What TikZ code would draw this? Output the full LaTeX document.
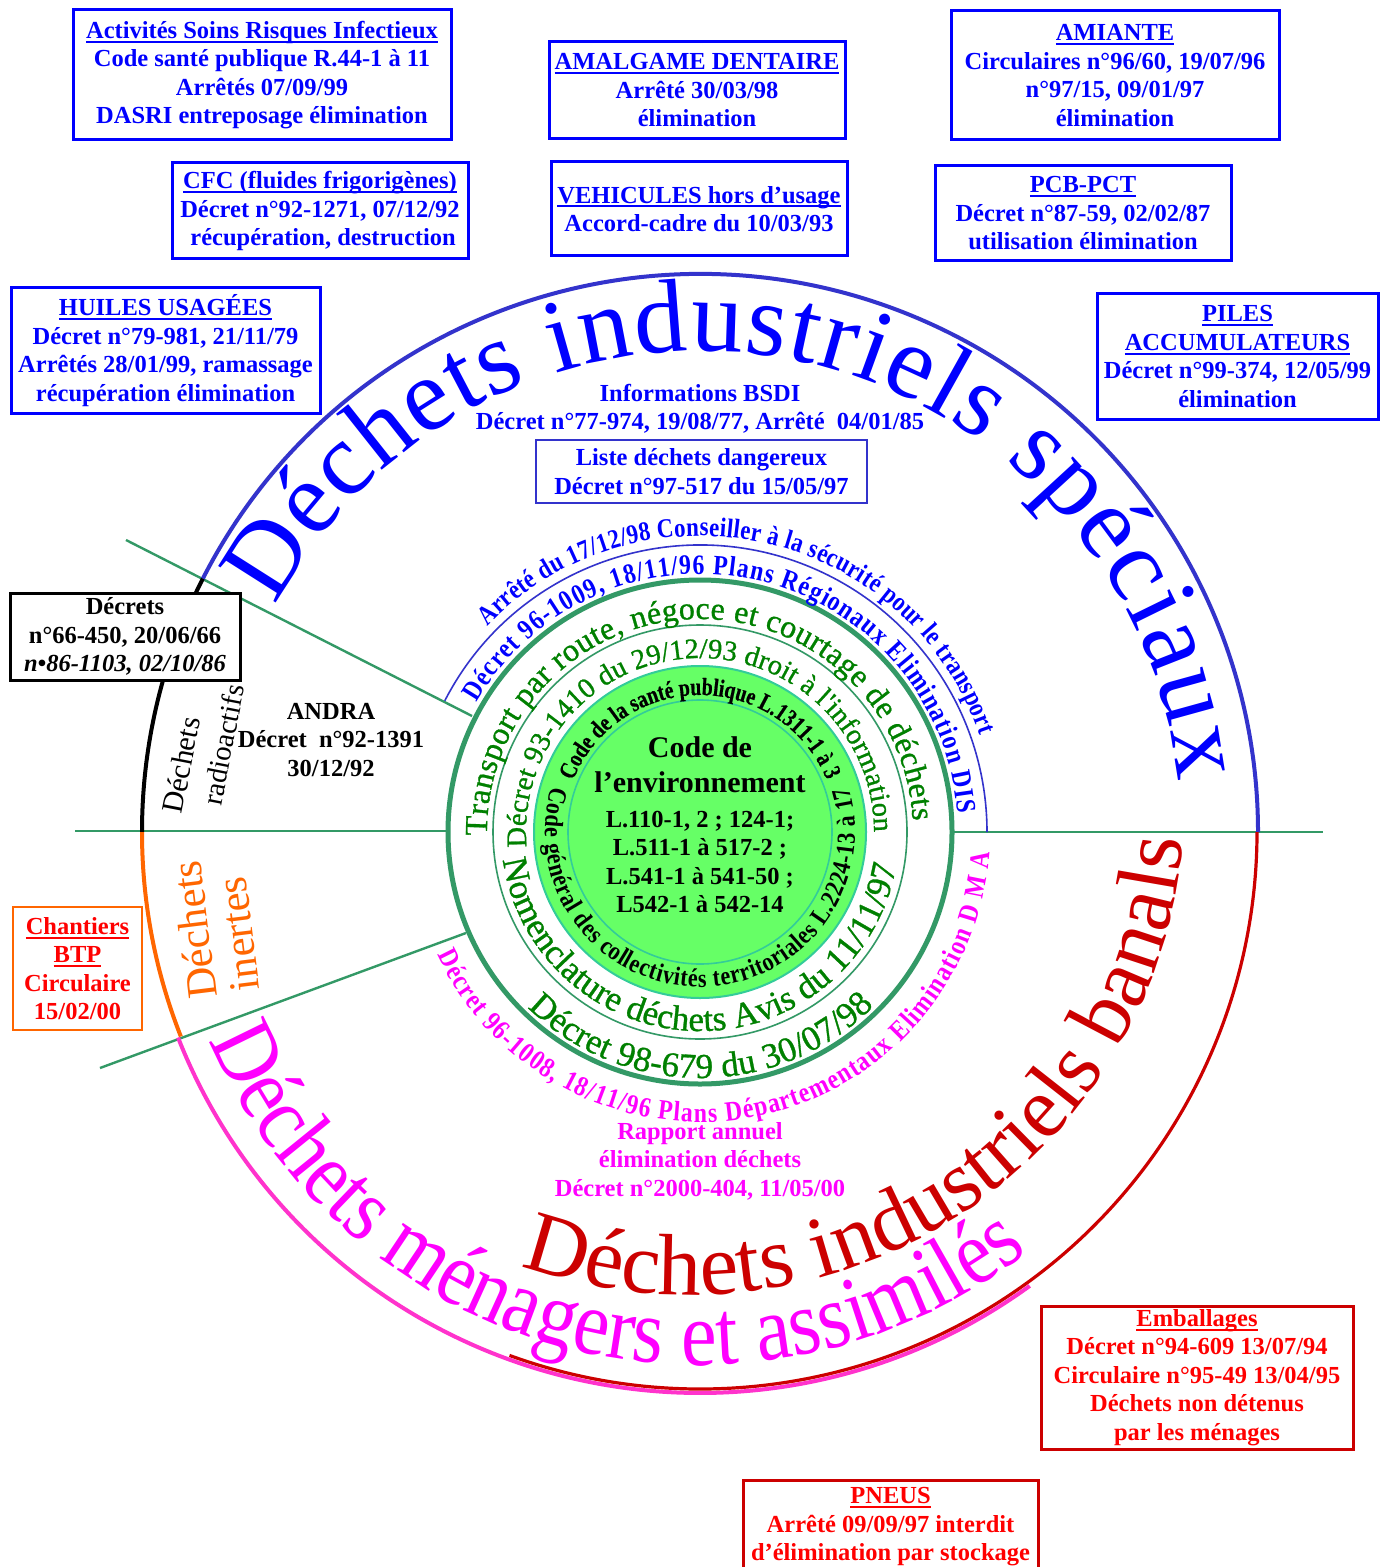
\documentclass[tikz,border=0pt]{standalone}
\usepackage{fontspec}
\setmainfont{Liberation Serif}
\newfontfamily\cnd[FakeStretch=0.85]{Liberation Serif}
\newfontfamily\cndb[FakeStretch=0.8,FakeBold=0.6]{Liberation Serif}
\newfontfamily\wide[FakeStretch=0.87]{Liberation Serif}
\newfontfamily\gfont[FakeBold=0.9]{Liberation Serif}
\usetikzlibrary{decorations.text}
\definecolor{tblue}{HTML}{0000FF}
\definecolor{arcblue}{HTML}{3333CC}
\definecolor{sgreen}{HTML}{339966}
\definecolor{dgreen}{HTML}{008000}
\definecolor{lgreen}{HTML}{66FF66}
\definecolor{diskb}{HTML}{33CC99}
\definecolor{mag}{HTML}{FF00FF}
\definecolor{pinkarc}{HTML}{FF33CC}
\definecolor{dred}{HTML}{CC0000}
\definecolor{tred}{HTML}{FF0000}
\definecolor{orng}{HTML}{FF6600}
\newcommand\ulin[1]{\setbox0\hbox{#1}\leavevmode\rlap{\rule[-2.2pt]{\wd0}{1pt}}\box0}
\newcommand\arctxt[7]{%
\path[decorate,decoration={text along path,text align={fit to path},text color=#2,text={|#3|#4}}] ([shift={(#5:#7)}]#1) arc[start angle=#5,end angle=#6,radius=#7];}
\tikzset{
 boxfont/.style={font=\fontsize{12.25}{14.25}\selectfont\bfseries, align=center, inner sep=0pt},
 bbox/.style={boxfont, draw=tblue, line width=1.5pt, text=tblue, fill=white},
 rbox/.style={boxfont, draw=dred, line width=1.5pt, text=tred, fill=white},
 plain/.style={boxfont},
 gline/.style={sgreen, line width=1.2pt},
 outarc/.style={line width=2pt}
}
\begin{document}
\begin{tikzpicture}[x=0.5pt,y=0.5pt]
\useasboundingbox (0,0) rectangle (1388,-1567);
\fill[white] (0,0) rectangle (1388,-1567);
\coordinate (C) at (700,-832);
\coordinate (C2) at (690,-800);
% radial green lines
\coordinate (g1o) at (126,-540); \coordinate (g1i) at (472,-716);
\coordinate (g2o) at (75,-831);  \coordinate (g2i) at (447,-831);
\coordinate (g3o) at (100,-1068); \coordinate (g3i) at (466,-933);
\coordinate (g4i) at (951,-832); \coordinate (g4o) at (1323,-832);
\draw[gline] (g1o) -- (g1i);
\draw[gline] (g2o) -- (g2i);
\draw[gline] (g3o) -- (g3i);
\draw[gline] (g4i) -- (g4o);
% circles
\draw[sgreen, line width=2.5pt] (C) circle[radius=252];
\draw[sgreen, line width=0.8pt] (C) circle[radius=207];
\draw[draw=diskb, fill=lgreen, line width=1pt] (C) circle[radius=166];
\draw[diskb, line width=0.8pt] (C) circle[radius=132];
% outer arcs
\draw[outarc, arcblue] ([shift={(153:558)}]C) arc[start angle=153,end angle=0,radius=558];
\draw[outarc, black] ([shift={(153:558)}]C) arc[start angle=153,end angle=180,radius=558];
\draw[outarc, orng] ([shift={(180:558)}]C) arc[start angle=180,end angle=201.5,radius=558];
\draw[outarc, pinkarc] ([shift={(201.5:561)}]C) arc[start angle=201.5,end angle=306,radius=561];
\draw[dred, line width=1.6pt] ([shift={(0:557)}]C) arc[start angle=360,end angle=250,radius=557];
\draw[arcblue, line width=0.8pt] ([shift={(152.8:287)}]C) arc[start angle=152.8,end angle=0,radius=287];
% curved texts
\arctxt{C}{tblue}{\fontsize{52}{52}\selectfont}{Déchets industriels spéciaux}{152}{6}{481}
\arctxt{C2}{dred}{\fontsize{43.5}{43.5}\selectfont}{Déchets industriels banals}{250}{355.5}{495}
\arctxt{C}{mag}{\wide\fontsize{46}{46}\selectfont}{Déchets ménagers et assimilés}{203}{308}{533}
\arctxt{C}{tblue}{\cnd\bfseries\fontsize{13.5}{13.5}\selectfont}{Arrêté du 17/12/98 Conseiller à la sécurité pour le transport}{136}{19}{296}
\arctxt{C}{tblue}{\cnd\bfseries\fontsize{14}{14}\selectfont}{Décret 96-1009, 18/11/96 Plans Régionaux Elimination DIS}{150}{4}{258}
\arctxt{C}{dgreen}{\gfont\fontsize{16}{16}\selectfont}{Transport par route, négoce et courtage de déchets}{181}{3}{213}
\arctxt{C}{dgreen}{\gfont\fontsize{14.2}{14.2}\selectfont}{Décret 93-1410 du 29/12/93 droit à l'information}{185}{0}{174}
\arctxt{C}{black}{\cndb\bfseries\fontsize{12.3}{12.3}\selectfont}{Code de la santé publique L.1311-1 à 3}{158}{23}{137}
\arctxt{C}{black}{\cnd\bfseries\fontsize{13}{13}\selectfont}{Code général des collectivités territoriales L.2224-13 à 17}{163}{377}{155}
\arctxt{C}{dgreen}{\gfont\fontsize{17.5}{17.5}\selectfont}{Nomenclature déchets Avis du 11/11/97}{188}{349.5}{199}
\arctxt{C}{dgreen}{\gfont\fontsize{17.5}{17.5}\selectfont}{Décret 98-679 du 30/07/98}{225.5}{315}{246}
\arctxt{C}{mag}{\cnd\bfseries\fontsize{14}{14}\selectfont}{Décret 96-1008, 18/11/96 Plans Départementaux Elimination D M A}{205}{356}{290}
% centre texts
\node[font=\fontsize{15}{17.5}\selectfont\bfseries, align=center] (env) at (700,-765) {Code de\\l’environnement};
\node[plain] (envl) at (700,-862) {L.110-1, 2 ; 124-1;\\L.511-1 à 517-2 ;\\L.541-1 à 541-50 ;\\L542-1 à 542-14};
\node[plain, text=tblue] (bsdi) at (700,-409) {Informations BSDI\\Décret n°77-974, 19/08/77, Arrêté\ \ 04/01/85};
\node[plain, draw=arcblue, line width=1pt, text=tblue, minimum width=165.5pt, minimum height=31.5pt] (liste) at (701.5,-471.5) {Liste déchets dangereux\\Décret n°97-517 du 15/05/97};
\node[plain] (andra) at (331,-740) {ANDRA\\Décret\ \ n°92-1391\\30/12/92};
\node[plain, text=mag] (rapport) at (700,-1161) {Rapport annuel\\élimination déchets\\Décret n°2000-404, 11/05/00};
% rotated labels
\node[rotate=79, font=\fontsize{15}{15}\selectfont] (dr1) at (181,-765) {Déchets};
\node[rotate=79, font=\fontsize{14.5}{14.5}\selectfont] (dr2) at (223,-745) {radioactifs};
\node[rotate=97, text=orng, font=\fontsize{21.5}{21.5}\selectfont] (di1) at (194,-930) {Déchets};
\node[rotate=97, text=orng, font=\fontsize{21.5}{21.5}\selectfont] (di2) at (239,-934) {inertes};
% blue boxes
\node[bbox, minimum width=189pt, minimum height=65pt] (asri) at (262,-75) {\ulin{Activités Soins Risques Infectieux}\\Code santé publique R.44-1 à 11\\Arrêtés 07/09/99\\DASRI entreposage élimination};
\node[bbox, minimum width=148pt, minimum height=48.5pt] (amal) at (697,-90.5) {\ulin{AMALGAME DENTAIRE}\\Arrêté 30/03/98\\élimination};
\node[bbox, minimum width=164pt, minimum height=64.5pt] (amiante) at (1115,-75.5) {\ulin{AMIANTE}\\Circulaires n°96/60, 19/07/96\\n°97/15, 09/01/97\\élimination};
\node[bbox, minimum width=148pt, minimum height=48pt] (cfc) at (320,-211) {\ulin{CFC (fluides frigorigènes)}\\Décret n°92-1271, 07/12/92\\\ récupération, destruction};
\node[bbox, minimum width=148pt, minimum height=47pt] (vhu) at (699,-209) {\ulin{VEHICULES hors d'usage}\\Accord-cadre du 10/03/93};
\node[bbox, minimum width=148pt, minimum height=47.5pt] (pcb) at (1083,-213.5) {\ulin{PCB-PCT}\\Décret n°87-59, 02/02/87\\utilisation élimination};
\node[bbox, minimum width=154.5pt, minimum height=62.5pt] (huiles) at (165.5,-350.5) {\ulin{HUILES USAGÉES}\\Décret n°79-981, 21/11/79\\Arrêtés 28/01/99, ramassage\\récupération élimination};
\node[bbox, minimum width=140.5pt, minimum height=62.5pt] (piles) at (1237.5,-356.5) {\ulin{PILES}\\\ulin{ACCUMULATEURS}\\Décret n°99-374, 12/05/99\\élimination};
% other boxes
\node[plain, draw=black, fill=white, line width=1.5pt, minimum width=115pt, minimum height=43.5pt] (decrets) at (125,-636.5) {Décrets\\n°66-450, 20/06/66\\\itshape n•86-1103, 02/10/86};
\node[plain, draw=orng, fill=white, line width=1pt, text=tred, minimum width=64.5pt, minimum height=61.5pt] (btp) at (77.5,-968.5) {\ulin{Chantiers}\\\ulin{BTP}\\Circulaire\\15/02/00};
\node[rbox, minimum width=156pt, minimum height=71.5pt] (emb) at (1197,-1377.5) {\ulin{Emballages}\\Décret n°94-609 13/07/94\\Circulaire n°95-49 13/04/95\\Déchets non détenus\\par les ménages};
\node[rbox, minimum width=147.5pt, minimum height=47pt] (pneus) at (890.5,-1527) {\ulin{PNEUS}\\Arrêté 09/09/97 interdit\\d’élimination par stockage};
\end{tikzpicture}
\end{document}
